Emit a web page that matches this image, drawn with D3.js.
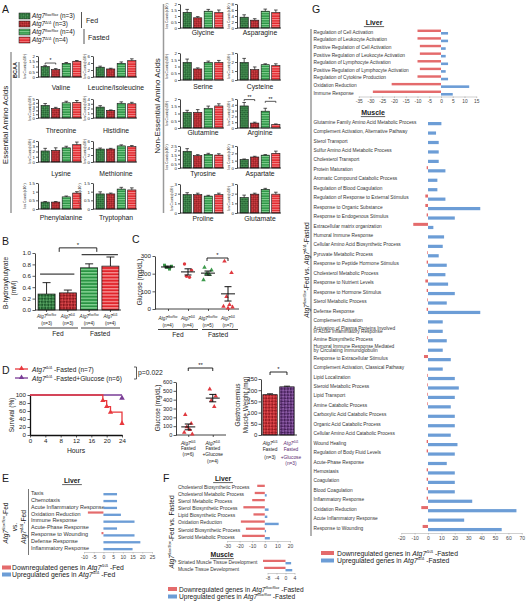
<!DOCTYPE html>
<html><head><meta charset="utf-8">
<script src="https://cdn.jsdelivr.net/npm/d3@7/dist/d3.min.js"></script>
<style>
html,body{margin:0;padding:0;background:#fff;}
svg{display:block;}
text{white-space:pre;}
</style></head>
<body>
<svg id="fig" width="528" height="601"></svg>
<script>
// ================= DATA =================
const aaNames = ["Valine","Leucine/Isoleucine","Threonine","Histidine","Lysine","Methionine","Phenylalanine","Tryptophan",
  "Glycine","Asparagine","Serine","Cysteine","Glutamine","Arginine","Tyrosine","Aspartate","Proline","Glutamate"];
const aaGroups = ["flox-Fed","KO-Fed","flox-Fasted","KO-Fasted"];
const aaValues = [
  [1.00,0.70,1.30,1.50],[2.8,2.3,3.9,4.7],[3.3,2.5,4.0,4.1],[2.3,1.6,3.1,3.0],
  [2.1,2.2,2.7,3.3],[3.7,3.7,4.6,4.4],[0.40,0.40,0.70,0.92],[0.87,0.87,1.15,1.10],
  [1.30,0.85,1.40,1.30],[3.6,2.6,5.6,5.2],[1.30,0.82,1.30,1.30],[1.95,1.15,1.70,1.60],
  [1.07,1.07,1.36,1.52],[3.8,0.85,2.9,0.6],[1.90,1.40,1.55,1.47],[1.15,1.50,1.75,2.00],
  [1.90,1.90,1.75,1.90],[1.60,1.95,2.45,1.95]];
const aaErrors = [
  [0.08,0.10,0.08,0.07],[0.3,0.2,0.4,0.5],[0.5,0.3,0.4,0.5],[0.3,0.1,0.3,0.3],
  [0.5,0.5,0.3,0.5],[0.3,0.2,0.3,0.3],[0.03,0.03,0.05,0.08],[0.12,0.05,0.10,0.12],
  [0.25,0.10,0.15,0.20],[0.8,0.5,0.7,0.8],[0.25,0.08,0.10,0.15],[0.45,0.30,0.10,0.20],
  [0.15,0.20,0.15,0.15],[0.6,0.15,0.5,0.1],[0.30,0.12,0.12,0.15],[0.08,0.10,0.08,0.30],
  [0.20,0.15,0.08,0.15],[0.25,0.10,0.10,0.20]];
const aaTicks = [
  [0,0.5,1,1.5,2],[0,2,4,6],[0,1,2,3,4,5],[0,1,2,3,4],[0,1,2,3,4],[0,2,4,6],[0,0.5,1,1.5],[0,0.5,1,1.5],
  [0,0.5,1,1.5,2],[0,2,4,6,8],[0,0.5,1,1.5,2],[0,1,2,3],[0,0.5,1,1.5,2],[0,1,2,3,4,5],
  [0,0.5,1,1.5,2,2.5],[0,1,2,3],[0,1,2,3],[0,1,2,3]];
const aaSig = [
  {chart:"Valine",a:0,b:1,level:1.33,label:"*"},
  {chart:"Arginine",a:0,b:1,level:4.9,label:"**"},
  {chart:"Arginine",a:2,b:3,level:4.6,label:"**"}];
const legendASup = ["flox/flox","Δ/Δ","flox/flox","Δ/Δ"];
const legendAN = [3,3,4,4];

const bhbValues = [0.28,0.30,0.74,0.77];
const bhbErrors = [0.20,0.05,0.07,0.16];
const bhbN = [3,3,4,4];
const bhbTicks = [0,0.2,0.4,0.6,0.8,1.0];

const glcGroups = [
  [248,242,236,226],
  [255,220,185,180],
  [235,220,200,195,165],
  [270,205,70,25,15,10,5]];
const glcN = [4,4,5,7];
const glcTicks = [0,100,200,300];

const survTimeKO = [0,19,20,21,24];
const survKO = [100,86,71,57,29];
const survTimeGlc = [0,24];
const survGlc = [100,100];
const survXTicks = [0,4,8,12,16,20,24];
const survYTicks = [0,20,40,60,80,100];

const dGlcFasted = [230,130,90,60,30,10];
const dGlcGlucose = [520,440,390,320];
const dGlcTicks = [0,100,200,300,400,500,600];

const gastroValues = [180,215];
const gastroErrors = [4,3];
const gastroTicks = [0,50,100,150,200,250];

const eNames = ["Taxis","Chemotaxis","Acute Inflammatory Response","Oxidation Reduction","Immune Response",
  "Acute-Phase Response","Response to Wounding","Defense Response","Inflammatory Response"];
const eDown = [0,0,0,-8,0,0,-1,0,0];
const eUp = [7,7,7,9,16,7,16,19,15];
const eTicks = [-10,-5,0,5,10,15,20,25];

const fLiverNames = ["Cholesterol Biosynthetic Process","Cholesterol Metabolic Process","Sterol Metabolic Process",
  "Sterol Biosynthetic Process","Lipid Biosynthetic Process","Oxidation Reduction","Steroid Biosynthetic Process","Steroid Metabolic Process"];
const fLiverDown = [-6,-8,-10,-17,-9,-19,-15,-18];
const fLiverUp = [0,1.5,0,3,2,11,1,4];
const fLiverTicks = [-30,-20,-10,0,10,20];
const fMuscleNames = ["Striated Muscle Tissue Development","Muscle Tissue Development"];
const fMuscleDown = [-10,-9.5];
const fMuscleUp = [2.5,3];
const fMuscleTicks = [-8,-4,0,4];

const gLiverNames = ["Regulation of Cell Activation","Regulation of Leukocyte Activation","Positive Regulation of Cell Activation",
  "Positive Regulation of Leukocyte Activation","Regulation of Lymphocyte Activation","Positive Regulation of Lymphocyte Activation",
  "Regulation of Cytokine Production","Oxidation Reduction","Immune Response"];
const gLiverDown = [-10,-10,-9,-9,-10,-9,-10,-21,-29];
const gLiverUp = [3,3,2,2,3,2,3,12,5];
const gLiverTicks = [-35,-30,-25,-20,-15,-10,-5,0,5,10,15];

const gMuscleNames = ["Glutamine Family Amino Acid Metabolic Process","Complement Activation, Alternative Pathway","Sterol Transport",
  "Sulfur Amino Acid Metabolic Process","Cholesterol Transport","Protein Maturation","Aromatic Compound Catabolic Process",
  "Regulation of Blood Coagulation","Regulation of Response to External Stimulus","Response to Organic Substance",
  "Response to Endogenous Stimulus","Extracellular matrix organization","Humoral Immune Response",
  "Cellular Amino Acid Biosynthetic Process","Pyruvate Metabolic Process","Response to Peptide Hormone Stimulus",
  "Cholesterol Metabolic Process","Response to Nutrient Levels","Response to Hormone Stimulus","Sterol Metabolic Process",
  "Defense Response","Complement Activation","Activation of Plasma Proteins Involved\nin Acute Inflammatory Response",
  "Amine Biosynthetic Process","Humoral Immune Response Mediated\nby Circulating Immunoglobulin","Response to Extracellular Stimulus",
  "Complement Activation, Classical Pathway","Lipid Localization","Steroid Metabolic Process","Lipid Transport",
  "Amine Catabolic Process","Carboxylic Acid Catabolic Process","Organic Acid Catabolic Process",
  "Cellular Amino Acid Catabolic Process","Wound Healing","Regulation of Body Fluid Levels","Acute-Phase Response",
  "Hemostasis","Coagulation","Blood Coagulation","Inflammatory Response","Oxidation Reduction",
  "Acute Inflammatory Response","Response to Wounding"];
const gMuscleDown = [0,0,0,0,0,-1,0,0,-2,-2,-1,-11,0,0,-0.5,-1,-0.5,-2,-1,-0.5,-1,0,0,-0.5,0,-3,0,-0.5,-0.5,-0.5,
  -0.5,0,0,0,-1,-1,0,-1,-1,-1,-1,-5,0,-4];
const gMuscleUp = [10,6,8,8,8,13,7,7,13,39,20,4,12,11,8,14,13,15,20,14,39,11,11,14,11,17,11,20,23,20,
  17,20,20,17,22,20,14,20,20,20,33,66,27,55];
const gMuscleTicks = [-20,-10,0,10,20,30,40,50,60,70];

// ================= DRAWING =================
const FONT = "'Liberation Sans', Arial, Helvetica, sans-serif";
const RED = "#e46b6c", BLUE = "#6c9dd6";
const svg = d3.select("#fig").style("font-family", FONT);
const defs = svg.append("defs");

function checkerPat(id, bg, fg, s) {
  const p = defs.append("pattern").attr("id", id).attr("patternUnits","userSpaceOnUse")
    .attr("width", s*2).attr("height", s*2).attr("patternTransform","rotate(45)");
  p.append("rect").attr("width", s*2).attr("height", s*2).attr("fill", bg);
  p.append("rect").attr("width", s).attr("height", s).attr("fill", fg);
  p.append("rect").attr("x", s).attr("y", s).attr("width", s).attr("height", s).attr("fill", fg);
}
function stripePat(id, bg, fg, s) {
  const p = defs.append("pattern").attr("id", id).attr("patternUnits","userSpaceOnUse")
    .attr("width", 4).attr("height", s);
  p.append("rect").attr("width", 4).attr("height", s).attr("fill", bg);
  p.append("rect").attr("width", 4).attr("height", s*0.42).attr("fill", fg);
}
checkerPat("ckG","#1d582b","#55a160",1.5);
checkerPat("ckR","#8c1a1f","#d8464a",1.5);
stripePat("stG","#2a9343","#85d293",2.4);
stripePat("stR","#e0242a","#f78d8f",2.4);
checkerPat("ckGb","#1d582b","#55a160",2.2);
checkerPat("ckRb","#8c1a1f","#d8464a",2.2);
stripePat("stGb","#2a9343","#85d293",3.2);
stripePat("stRb","#e0242a","#f78d8f",3.2);
checkerPat("ckR2","#991b21","#e3494d",2.2);
checkerPat("ckP","#46205a","#8e5ca8",2.2);
const aaFills = ["url(#ckG)","url(#ckR)","url(#stG)","url(#stR)"];
const bFills = ["url(#ckGb)","url(#ckRb)","url(#stGb)","url(#stRb)"];

function rich(parent, x, y, parts, size, o = {}) {
  const t = parent.append("text").attr("x", x).attr("y", y).attr("font-size", size)
    .attr("text-anchor", o.anchor || "start").attr("fill", o.fill || "#1a1a1a");
  if (o.weight) t.attr("font-weight", o.weight);
  if (o.rotate) t.attr("transform", `rotate(${o.rotate},${x},${y})`);
  let up = false;
  parts.forEach(p => {
    const s = typeof p === "string" ? p : p[0];
    const st = typeof p === "string" ? "" : p[1];
    const ts = t.append("tspan").text(s);
    if (st.includes("i")) ts.attr("font-style", "italic");
    if (st.includes("s")) { ts.attr("font-size", size*0.62); if (!up) { ts.attr("dy", -size*0.4); up = true; } }
    else if (up) { ts.attr("dy", size*0.4); up = false; }
  });
  return t;
}
const ATG = sup => [["Atg7","i"],[sup,"is"]];
function txt(x, y, s, size, o = {}) {
  const t = svg.append("text").attr("x", x).attr("y", y).attr("font-size", size)
    .attr("text-anchor", o.anchor || "start").attr("fill", o.fill || "#1a1a1a").text(s);
  if (o.weight) t.attr("font-weight", o.weight);
  if (o.rotate) t.attr("transform", `rotate(${o.rotate},${x},${y})`);
  return t;
}
function line(x1, y1, x2, y2, c = "#111", w = 0.8) {
  svg.append("line").attr("x1",x1).attr("y1",y1).attr("x2",x2).attr("y2",y2).attr("stroke",c).attr("stroke-width",w);
}
function styleAxis(ag, fs, col = "#111", tcol = "#222") {
  ag.attr("font-size", fs).attr("font-family", FONT);
  ag.selectAll("path.domain").attr("stroke", col).attr("stroke-width", 0.8);
  ag.selectAll(".tick line").attr("stroke", col).attr("stroke-width", 0.7);
  ag.selectAll(".tick text").attr("fill", tcol);
}
const fmt = d => String(d);
function bracket(x1, x2, y, drop, label, fs) {
  svg.append("path").attr("d", `M${x1},${y+drop}V${y}H${x2}V${y+drop}`).attr("fill","none").attr("stroke","#111").attr("stroke-width",0.9);
  txt((x1+x2)/2, y - 1, label, fs, {anchor:"middle"});
}

// ---------- Panel letters ----------
[["A",2,13],["B",2,245],["C",132,243],["D",2,374],["E",2,482],["F",163,482],["G",312,13]]
  .forEach(([l,x,y]) => txt(x, y, l, 10.5));

// ---------- Panel A legend ----------
legendASup.forEach((sup, i) => {
  const cy = 16 + i*8;
  svg.append("rect").attr("x",19).attr("y",cy-3).attr("width",11).attr("height",6)
    .attr("fill", aaFills[i]).attr("stroke","#111").attr("stroke-width",0.5);
  rich(svg, 32, cy+2.3, [...ATG(sup), ` (n=${legendAN[i]})`], 6.3);
});
line(81.5,12,81.5,28,"#555",1);
txt(86,22.5,"Fed",7);
line(84,29,84,44,"#555",1);
txt(88,39.5,"Fasted",7);

// group labels
txt(8,125,"Essential Amino Acids",8,{anchor:"middle",rotate:-90});
line(11,52,11,213,"#9a9a9a",1.5);
txt(17,70,"BCAA",5.5,{anchor:"middle",rotate:-90,weight:"bold"});
line(19,62,19,78,"#222",0.7);
txt(159.5,106,"Non-Essential Amino Acids",8,{anchor:"middle",rotate:-90});
line(163.5,4,163.5,213,"#9a9a9a",1.5);

// ---------- Panel A mini bar charts ----------
const colAxisX = [38, 93, 180, 237];
const leftRows = [[56,77,90],[99,118,133],[141,162,176],[183,209,220]];
const rightRows = [[4,28,34.5],[53,80,88.5],[99,128,134.5],[146,168,176],[184,213,221]];
aaNames.forEach((name, i) => {
  let col, row;
  if (i < 8) { col = i % 2; row = leftRows[Math.floor(i/2)]; }
  else { col = 2 + (i-8) % 2; row = rightRows[Math.floor((i-8)/2)]; }
  const ax = colAxisX[col], [top, base, lab] = row;
  const ticks = aaTicks[i], max = ticks[ticks.length-1];
  const y = d3.scaleLinear().domain([0, max]).range([base, top]);
  const x = d3.scaleBand().domain(d3.range(4)).range([ax+2, ax+44]).paddingInner(0.22).paddingOuter(0.1);
  const g = svg.append("g");
  const bw = x.bandwidth();
  g.selectAll("rect").data(aaValues[i]).join("rect")
    .attr("x", (d,j) => x(j)).attr("y", d => y(d)).attr("width", bw).attr("height", d => base - y(d))
    .attr("fill", (d,j) => aaFills[j]).attr("stroke","#111").attr("stroke-width",0.6);
  aaValues[i].forEach((v, j) => {
    const cx = x(j) + bw/2, e = aaErrors[i][j];
    g.append("path").attr("d", `M${cx},${y(v)}V${y(v+e)}M${cx-1.8},${y(v+e)}H${cx+1.8}`)
      .attr("stroke","#111").attr("stroke-width",0.7).attr("fill","none");
  });
  const ag = g.append("g").attr("transform", `translate(${ax},0)`)
    .call(d3.axisLeft(y).tickValues(ticks).tickSize(2).tickSizeOuter(0).tickPadding(1).tickFormat(d3.format("~g")));
  styleAxis(ag, 4.4);
  g.append("line").attr("x1", ax).attr("x2", ax+44).attr("y1", base).attr("y2", base).attr("stroke","#111").attr("stroke-width",0.8);
  g.append("text").attr("x", ax+23).attr("y", lab).attr("text-anchor","middle").attr("font-size",6.8).attr("fill","#1a1a1a").text(name);
  const maxChars = d3.max(ticks, t => d3.format("~g")(t).length);
  rich(g, ax - 4.8 - maxChars*2.3, (top+base)/2, ["Ion Counts(x10", ["7","s"], ")"], 3.4, {anchor:"middle", rotate:-90, fill:"#333"});
  aaSig.filter(s => s.chart === name).forEach(s => {
    const x1 = x(s.a)+bw/2, x2 = x(s.b)+bw/2, yy = y(s.level);
    g.append("path").attr("d", `M${x1},${yy+1.5}V${yy}H${x2}V${yy+1.5}`).attr("fill","none").attr("stroke","#111").attr("stroke-width",0.7);
    g.append("text").attr("x",(x1+x2)/2).attr("y",yy-0.6).attr("text-anchor","middle").attr("font-size",5).text(s.label);
  });
});

// ---------- Panel B ----------
{
  const y = d3.scaleLinear().domain([0,1]).range([310,253]);
  const x = d3.scaleBand().domain(d3.range(4)).range([37,120]).paddingInner(0.2).paddingOuter(0.05);
  const bw = x.bandwidth();
  svg.append("g").selectAll("rect").data(bhbValues).join("rect")
    .attr("x",(d,j)=>x(j)).attr("y",d=>y(d)).attr("width",bw).attr("height",d=>310-y(d))
    .attr("fill",(d,j)=>bFills[j]).attr("stroke","#111").attr("stroke-width",0.7);
  bhbValues.forEach((v,j)=>{
    const cx = x(j)+bw/2, e = bhbErrors[j];
    svg.append("path").attr("d",`M${cx},${y(v)}V${y(v+e)}M${cx-4},${y(v+e)}H${cx+4}`).attr("stroke","#111").attr("stroke-width",0.9).attr("fill","none");
  });
  const ag = svg.append("g").attr("transform","translate(35,0)")
    .call(d3.axisLeft(y).tickValues(bhbTicks).tickSize(2.5).tickSizeOuter(0).tickPadding(1.5).tickFormat(d3.format(".1f")));
  styleAxis(ag, 6.2);
  const bg = svg.append("g").attr("transform","translate(0,310)")
    .call(d3.axisBottom(x).tickSize(2).tickSizeOuter(0).tickFormat(""));
  styleAxis(bg, 5);
  bg.select("path.domain").attr("d","M35,0H121");
  line(x(0)+2, y(0.63), x(1)+bw-2, y(0.63), "#111", 1);
  line(x(2)+1, y(0.97), x(3)+bw-1, y(0.97), "#111", 1);
  bracket((x(0)+x(1)+bw)/2+2, (x(2)+x(3)+bw)/2-3, y(1.09), 4, "*", 6);
  txt(8,283,"B-hydroxybutyrate",6.4,{anchor:"middle",rotate:-90});
  txt(16,288,"(mM)",6.4,{anchor:"middle",rotate:-90});
  const sups = ["flox/flox","Δ/Δ","flox/flox","Δ/Δ"];
  sups.forEach((s,j)=>{
    const cx = x(j)+bw/2;
    rich(svg, cx, 317.5, ATG(s), 4.6, {anchor:"middle"});
    txt(cx, 325, `(n=${bhbN[j]})`, 4.6, {anchor:"middle"});
  });
  line(38,328,78,328,"#111",0.8);
  line(81,328,120,328,"#111",0.8);
  txt(58,336,"Fed",6.6,{anchor:"middle"});
  txt(100,336,"Fasted",6.6,{anchor:"middle"});
}

// ---------- Panel C ----------
{
  const y = d3.scaleLinear().domain([0,300]).range([309,256]);
  const x = d3.scalePoint().domain(d3.range(4)).range([158,238]).padding(0.5);
  const ag = svg.append("g").attr("transform","translate(155,0)")
    .call(d3.axisLeft(y).tickValues(glcTicks).tickSize(2.5).tickSizeOuter(0).tickPadding(1.5));
  styleAxis(ag, 6.2);
  const bg = svg.append("g").attr("transform","translate(0,309)")
    .call(d3.axisBottom(x).tickSize(2).tickSizeOuter(0).tickFormat(""));
  styleAxis(bg, 5);
  bg.select("path.domain").attr("d","M155,0H239");
  const shapes = [d3.symbolSquare, d3.symbolCircle, d3.symbolTriangle, d3.symbolTriangle];
  const cols = ["#3d9a4c","#e03a40","#3d9a4c","#e03a40"];
  const jit = [-3.5,3.5,-1.5,1.5,-4.5,4.5,0];
  glcGroups.forEach((vals, gi) => {
    const cx = x(gi);
    vals.forEach((v, k) => {
      svg.append("path").attr("d", d3.symbol(shapes[gi], 9)())
        .attr("transform", `translate(${cx + jit[k % jit.length]},${y(v)})`).attr("fill", cols[gi]);
    });
    const m = d3.mean(vals), se = d3.deviation(vals)/Math.sqrt(vals.length);
    svg.append("path").attr("d", `M${cx-7},${y(m)}H${cx+7}M${cx},${y(m+se)}V${y(m-se)}M${cx-3.5},${y(m+se)}H${cx+3.5}M${cx-3.5},${y(m-se)}H${cx+3.5}`)
      .attr("stroke","#111").attr("stroke-width",1).attr("fill","none");
  });
  bracket(x(2)-1, x(3), 258, 3, "*", 6);
  txt(142,282,"Glucose (mg/dL)",6.3,{anchor:"middle",rotate:-90});
  const sups = ["flox/flox","Δ/Δ","flox/flox","Δ/Δ"];
  sups.forEach((s,j)=>{
    rich(svg, x(j), 319.5, ATG(s), 4.6, {anchor:"middle"});
    txt(x(j), 326.5, `(n=${glcN[j]})`, 4.6, {anchor:"middle"});
  });
  line(158,329.5,198,329.5,"#111",0.8);
  line(202,329.5,238,329.5,"#111",0.8);
  txt(178,337,"Fed",6.6,{anchor:"middle"});
  txt(218,337,"Fasted",6.6,{anchor:"middle"});
}

// ---------- Panel D : survival ----------
{
  const x = d3.scaleLinear().domain([0,24]).range([30,122]);
  const y = d3.scaleLinear().domain([0,100]).range([435,395]);
  const ag = svg.append("g").attr("transform","translate(30,0)")
    .call(d3.axisLeft(y).tickValues(survYTicks).tickSize(2.5).tickSizeOuter(0).tickPadding(1.5));
  styleAxis(ag, 6.2);
  ag.select("path.domain").attr("stroke-width",1.3);
  const bg = svg.append("g").attr("transform","translate(0,435)")
    .call(d3.axisBottom(x).tickValues(survXTicks).tickSize(2.5).tickSizeOuter(0).tickPadding(1.5));
  styleAxis(bg, 6.2);
  bg.select("path.domain").attr("stroke-width",1.3);
  const ln = d3.line().x((d,i)=>x(d[0])).y(d=>y(d[1])).curve(d3.curveStepAfter);
  const PUR = "#7a3c96", RD = "#e8383d";
  svg.append("path").attr("d", ln(survTimeGlc.map((t,i)=>[t,survGlc[i]]))).attr("stroke",PUR).attr("stroke-width",1.3).attr("fill","none");
  svg.append("path").attr("d", ln(survTimeKO.map((t,i)=>[t,survKO[i]]))).attr("stroke",RD).attr("stroke-width",1.3).attr("fill","none");
  survTimeKO.forEach((t,i)=>{ if(i>0) svg.append("path").attr("d",d3.symbol(d3.symbolTriangle,12)()).attr("transform",`translate(${x(t)},${y(survKO[i])})`).attr("fill",RD); });
  svg.append("path").attr("d",d3.symbol(d3.symbolTriangle,14)()).attr("transform",`translate(${x(24)},${y(100)+3})`).attr("fill",PUR);
  txt(14,415,"Survival (%)",6.4,{anchor:"middle",rotate:-90});
  txt(76,453,"Hours",6.8,{anchor:"middle"});
  line(15,369,28,369,RD,1.3);
  svg.append("path").attr("d",d3.symbol(d3.symbolTriangle,12)()).attr("transform","translate(21.5,368.5)").attr("fill",RD);
  rich(svg, 32, 371.5, [...ATG("Δ/Δ"), " -Fasted (n=7)"], 6.6);
  line(15,378,28,378,PUR,1.3);
  svg.append("path").attr("d",d3.symbol(d3.symbolTriangle,12)()).attr("transform","translate(21.5,377.5)").attr("fill",PUR);
  rich(svg, 32, 380.5, [...ATG("Δ/Δ"), " -Fasted+Glucose (n=6)"], 6.6);
  svg.append("path").attr("d","M134,367H136.5V379H134").attr("fill","none").attr("stroke","#333").attr("stroke-width",0.8);
  txt(138,375,"p=0.022",6.8);
}

// ---------- Panel D : glucose ----------
{
  const y = d3.scaleLinear().domain([0,600]).range([435,382]);
  const x = d3.scalePoint().domain([0,1]).range([176,225]).padding(0.5);
  const ag = svg.append("g").attr("transform","translate(176,0)")
    .call(d3.axisLeft(y).tickValues(dGlcTicks).tickSize(2.5).tickSizeOuter(0).tickPadding(1.2));
  styleAxis(ag, 5.6);
  const bg = svg.append("g").attr("transform","translate(0,435)")
    .call(d3.axisBottom(x).tickSize(2).tickSizeOuter(0).tickFormat(""));
  styleAxis(bg, 5);
  bg.select("path.domain").attr("d","M176,0H226");
  const jit = [-3,3,-1.5,1.5,-4,4];
  [dGlcFasted, dGlcGlucose].forEach((vals, gi) => {
    const cx = x(gi);
    vals.forEach((v,k)=> svg.append("path").attr("d",d3.symbol(d3.symbolTriangle,9)()).attr("transform",`translate(${cx+jit[k%jit.length]},${y(v)})`).attr("fill","#e03a40"));
    const m = d3.mean(vals), se = d3.deviation(vals)/Math.sqrt(vals.length);
    svg.append("path").attr("d", `M${cx-7},${y(m)}H${cx+7}M${cx},${y(m+se)}V${y(m-se)}M${cx-3.5},${y(m+se)}H${cx+3.5}M${cx-3.5},${y(m-se)}H${cx+3.5}`)
      .attr("stroke","#111").attr("stroke-width",1).attr("fill","none");
  });
  bracket(x(0), x(1), 368, 3, "**", 6);
  txt(160,408,"Glucose (mg/dL)",6.3,{anchor:"middle",rotate:-90});
  rich(svg, x(0), 444.5, ATG("Δ/Δ"), 4.8, {anchor:"middle"});
  txt(x(0), 450, "Fasted", 4.8, {anchor:"middle"});
  txt(x(0), 456, "(n=6)", 4.8, {anchor:"middle"});
  rich(svg, x(1), 444.5, ATG("Δ/Δ"), 4.8, {anchor:"middle"});
  txt(x(1), 450, "Fasted", 4.8, {anchor:"middle"});
  txt(x(1), 456, "+Glucose", 4.8, {anchor:"middle"});
  txt(x(1), 463, "(n=4)", 4.8, {anchor:"middle"});
}

// ---------- Panel D : gastrocnemius ----------
{
  const y = d3.scaleLinear().domain([0,250]).range([435,379]);
  const x = d3.scaleBand().domain([0,1]).range([262,295]).paddingInner(0.15).paddingOuter(0.05);
  const bw = x.bandwidth();
  const fills = ["url(#ckR2)","url(#ckP)"];
  gastroValues.forEach((v,j)=>{
    svg.append("rect").attr("x",x(j)).attr("y",y(v)).attr("width",bw).attr("height",435-y(v))
      .attr("fill",fills[j]).attr("stroke","#111").attr("stroke-width",0.7);
    const cx = x(j)+bw/2, e = gastroErrors[j];
    svg.append("path").attr("d",`M${cx},${y(v)}V${y(v+e)}M${cx-3},${y(v+e)}H${cx+3}`).attr("stroke","#111").attr("stroke-width",0.9).attr("fill","none");
  });
  const ag = svg.append("g").attr("transform","translate(261,0)")
    .call(d3.axisLeft(y).tickValues(gastroTicks).tickSize(2.5).tickSizeOuter(0).tickPadding(1.2));
  styleAxis(ag, 6);
  line(261,435,297,435,"#111",0.8);
  bracket(x(0)+bw/2, x(1)+bw/2, 372, 3, "*", 6);
  txt(240,405,"Gastrocnemius",6.4,{anchor:"middle",rotate:-90});
  txt(248,405,"Muscle Weight (mg)",6.4,{anchor:"middle",rotate:-90});
  const c0 = x(0)+bw/2, c1 = x(1)+bw/2, PUR = "#5b2870";
  rich(svg, c0, 444.5, ATG("Δ/Δ"), 4.8, {anchor:"middle"});
  txt(c0, 451, "Fasted", 4.8, {anchor:"middle"});
  txt(c0, 458.5, "(n=3)", 4.8, {anchor:"middle"});
  rich(svg, c1+4, 444.5, ATG("Δ/Δ"), 4.8, {anchor:"middle", fill:PUR});
  txt(c1+4, 451, "Fasted", 4.8, {anchor:"middle", fill:PUR});
  txt(c1+4, 458.5, "+Glucose", 4.8, {anchor:"middle", fill:PUR});
  txt(c1+4, 465, "(n=3)", 4.8, {anchor:"middle", fill:PUR});
}

// ---------- horizontal bar helper ----------
function hbar(o) {
  const g = svg.append("g");
  const x = d3.scaleLinear().domain(o.domain).range(o.range);
  const y = d3.scaleBand().domain(d3.range(o.names.length)).range([o.y0, o.y1]);
  const bw = y.bandwidth();
  o.names.forEach((nm, i) => {
    const lines = nm.split("\n");
    const cy = y(i) + bw/2;
    const t = g.append("text").attr("x", o.labelX).attr("font-size", o.fs).attr("fill", "#333");
    if (lines.length === 1) t.attr("y", cy + o.fs*0.35).text(nm);
    else lines.forEach((ln, k) => t.append("tspan").attr("x", o.labelX)
      .attr("y", cy + o.fs*0.35 + (k-0.5)*o.fs*0.78).text(ln));
  });
  g.append("g").selectAll("rect").data(o.down).join("rect")
    .attr("x", d => x(Math.min(0,d))).attr("width", d => Math.abs(x(d)-x(0)))
    .attr("y", (d,i) => y(i) + bw*0.18).attr("height", bw*0.32).attr("fill", RED);
  g.append("g").selectAll("rect").data(o.up).join("rect")
    .attr("x", x(0)).attr("width", d => Math.abs(x(d)-x(0)))
    .attr("y", (d,i) => y(i) + bw*0.5).attr("height", bw*0.34).attr("fill", BLUE);
  const ag = g.append("g").attr("transform", `translate(0,${o.axisY})`)
    .call(d3.axisBottom(x).tickValues(o.ticks).tickSize(1.5).tickSizeOuter(0).tickPadding(1.5).tickFormat(fmt));
  styleAxis(ag, o.tfs || 5, "#b0b0b0", "#444");
  ag.select("path.domain").attr("stroke-width", 0.6);
}
function header(x, y, s, fs) {
  txt(x, y, s, fs, {anchor:"middle", weight:"bold"});
  const w = s.length*fs*0.58;
  line(x-w/2, y+1.6, x+w/2, y+1.6, "#222", 0.7);
}

// ---------- Panel E ----------
header(72, 483, "Liver", 6.8);
line(28.5, 489, 28.5, 555, "#777", 1);
hbar({names:eNames, down:eDown, up:eUp, domain:[-10,25], range:[84,152], y0:489.6, y1:551.4,
  labelX:31, fs:5.5, ticks:eTicks, axisY:552, tfs:5});
rich(svg, 8, 523, [...ATG("flox/flox"), "-Fed"], 6.6, {anchor:"middle", rotate:-90});
txt(16.5, 527, "vs.", 6.6, {anchor:"middle", rotate:-90});
rich(svg, 25.5, 527, [...ATG("Δ/Δ"), "-Fed"], 6.6, {anchor:"middle", rotate:-90});
svg.append("rect").attr("x",2).attr("y",565.5).attr("width",9).attr("height",4).attr("fill",RED);
rich(svg, 12, 570, ["Downregulated genes in ", ...ATG("Δ/Δ"), " -Fed"], 6.8);
svg.append("rect").attr("x",2).attr("y",572.5).attr("width",9).attr("height",4).attr("fill",BLUE);
rich(svg, 12, 577, ["Upregulated genes in ", ...ATG("Δ/Δ"), " -Fed"], 6.8);

// ---------- Panel F ----------
header(223, 481, "Liver", 6.8);
hbar({names:fLiverNames, down:fLiverDown, up:fLiverUp, domain:[-30,20], range:[227,290], y0:483.4, y1:540.6,
  labelX:178, fs:4.9, ticks:fLiverTicks, axisY:541, tfs:5});
header(222, 557, "Muscle", 6.8);
hbar({names:fMuscleNames, down:fMuscleDown, up:fMuscleUp, domain:[-8,4], range:[267.5,294.5], y0:558.5, y1:572.5,
  labelX:178, fs:4.9, ticks:fMuscleTicks, axisY:573, tfs:5});
rich(svg, 174, 532, [...ATG("flox/flox"), "-Fed vs. Fasted"], 6.6, {anchor:"middle", rotate:-90});
svg.append("rect").attr("x",168).attr("y",587).attr("width",9).attr("height",4).attr("fill",RED);
rich(svg, 179, 591.5, ["Downregulated genes in ", ...ATG("flox/flox"), " -Fasted"], 6.6);
svg.append("rect").attr("x",168).attr("y",594.5).attr("width",9).attr("height",4).attr("fill",BLUE);
rich(svg, 179, 599, ["Upregulated genes in ", ...ATG("flox/flox"), " -Fasted"], 6.6);

// ---------- Panel G ----------
line(311, 29, 311, 536, "#9a9a9a", 1.5);
header(374, 25, "Liver", 7);
hbar({names:gLiverNames, down:gLiverDown, up:gLiverUp, domain:[-35,15], range:[358.75,476.25], y0:28.2, y1:96.8,
  labelX:313.5, fs:4.8, ticks:gLiverTicks, axisY:96.5, tfs:4.8});
header(373, 115, "Muscle", 7);
hbar({names:gMuscleNames, down:gMuscleDown, up:gMuscleUp, domain:[-20,70], range:[401.2,521.8], y0:117.3, y1:532.7,
  labelX:313.5, fs:4.8, ticks:gMuscleTicks, axisY:533, tfs:5});
rich(svg, 308.5, 270, [...ATG("flox/flox"), "-Fed vs. ", ...ATG("Δ/Δ"), "-Fasted"], 6.6, {anchor:"middle", rotate:-90});
svg.append("rect").attr("x",321).attr("y",551).attr("width",13).attr("height",4).attr("fill",RED);
rich(svg, 337, 555.5, ["Downregulated genes in ", ...ATG("Δ/Δ"), " -Fasted"], 6.8);
svg.append("rect").attr("x",321).attr("y",558.5).attr("width",13).attr("height",4).attr("fill",BLUE);
rich(svg, 337, 563, ["Upregulated genes in ", ...ATG("Δ/Δ"), " -Fasted"], 6.8);
</script>
</body></html>
